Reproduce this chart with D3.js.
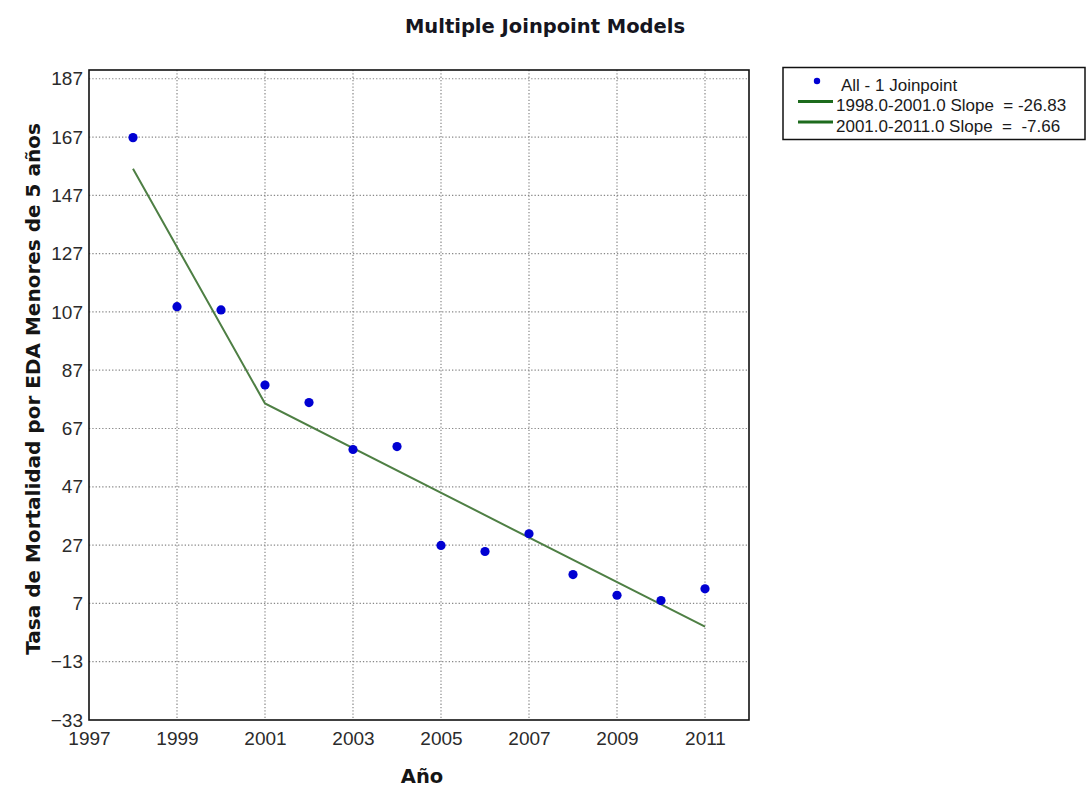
<!DOCTYPE html>
<html>
<head>
<meta charset="utf-8">
<script src="https://cdn.jsdelivr.net/npm/d3@7"></script>
<style>
  html, body { margin: 0; padding: 0; background: #ffffff; }
  svg { display: block; }
</style>
</head>
<body>
<svg id="chart" width="1088" height="787"></svg>
<script>
// Observed mortality rate per year
const years = [1998, 1999, 2000, 2001, 2002, 2003, 2004, 2005, 2006, 2007, 2008, 2009, 2010, 2011];
const rates = [166.8, 108.8, 107.7, 81.9, 75.9, 59.8, 60.8, 26.9, 24.8, 30.9, 16.9, 9.8, 8.0, 12.0];

// Joinpoint fit: segment end points
const fitYears = [1998, 2001, 2011];
const fitValues = [156.1, 75.6, -1.0];

// Axis ticks
const xTicks = [1997, 1999, 2001, 2003, 2005, 2007, 2009, 2011];
const yTicks = [-33, -13, 7, 27, 47, 67, 87, 107, 127, 147, 167, 187];

// Legend entries
const legendLabels = ["All - 1 Joinpoint", "1998.0-2001.0 Slope  = -26.83", "2001.0-2011.0 Slope  =  -7.66"];

const chartTitle = "Multiple Joinpoint Models";
const xTitle = "Año";
const yTitle = "Tasa de Mortalidad por EDA Menores de 5 años";

const svg = d3.select("#chart");
const plot = { left: 89, right: 749, top: 70, bottom: 720 };

const x = d3.scaleLinear().domain([1997, 2012]).range([plot.left, plot.right]);
const y = d3.scaleLinear().domain([-33, 190]).range([plot.bottom, plot.top]);

const tickFont = "'Liberation Sans', Arial, sans-serif";
const boldFont = "'DejaVu Sans', Verdana, sans-serif";

// Dotted grid
const grid = svg.append("g").attr("stroke", "#888").attr("stroke-width", 1.2)
  .attr("stroke-dasharray", "1.3,2");
grid.selectAll("line.v").data(xTicks.filter(t => t > 1997)).join("line")
  .attr("class", "v")
  .attr("x1", d => x(d)).attr("x2", d => x(d))
  .attr("y1", plot.top).attr("y2", plot.bottom);
grid.selectAll("line.h").data(yTicks.filter(t => t > -33)).join("line")
  .attr("class", "h")
  .attr("x1", plot.left).attr("x2", plot.right)
  .attr("y1", d => y(d)).attr("y2", d => y(d));

// Axes (labels only; the frame is drawn separately)
const xAxis = svg.append("g")
  .attr("transform", `translate(0,${plot.bottom})`)
  .call(d3.axisBottom(x).tickValues(xTicks).tickFormat(d3.format("d")).tickSize(0).tickPadding(12));
const yAxis = svg.append("g")
  .attr("transform", `translate(${plot.left},0)`)
  .call(d3.axisLeft(y).tickValues(yTicks).tickFormat(d3.format("d")).tickSize(0).tickPadding(6));
[xAxis, yAxis].forEach(g => {
  g.select(".domain").remove();
  g.selectAll("text").attr("font-family", tickFont).attr("font-size", 19).attr("fill", "#2b2b2b");
});

// Fitted joinpoint line
const fit = fitYears.map((yr, i) => [yr, fitValues[i]]);
svg.append("path")
  .datum(fit)
  .attr("fill", "none")
  .attr("stroke", "#4e7f44")
  .attr("stroke-width", 2)
  .attr("d", d3.line().x(d => x(d[0])).y(d => y(d[1])));

// Observed points
svg.append("g").selectAll("circle")
  .data(years.map((yr, i) => [yr, rates[i]]))
  .join("circle")
  .attr("cx", d => x(d[0]))
  .attr("cy", d => y(d[1]))
  .attr("r", 4.6)
  .attr("fill", "#0000d2");

// Plot frame
svg.append("rect")
  .attr("x", plot.left).attr("y", plot.top)
  .attr("width", plot.right - plot.left).attr("height", plot.bottom - plot.top)
  .attr("fill", "none").attr("stroke", "#111").attr("stroke-width", 1.6);

// Titles
svg.append("text")
  .attr("x", 545).attr("y", 33)
  .attr("text-anchor", "middle")
  .attr("font-family", boldFont).attr("font-weight", "bold").attr("font-size", 19.5)
  .attr("fill", "#151520")
  .text(chartTitle);

svg.append("text")
  .attr("x", (plot.left + plot.right) / 2 + 3).attr("y", 783)
  .attr("text-anchor", "middle")
  .attr("font-family", boldFont).attr("font-weight", "bold").attr("font-size", 19.5)
  .attr("fill", "#151515")
  .text(xTitle);

svg.append("text")
  .attr("transform", `translate(40,${(plot.top + plot.bottom) / 2 - 6}) rotate(-90)`)
  .attr("text-anchor", "middle")
  .attr("font-family", boldFont).attr("font-weight", "bold").attr("font-size", 20)
  .attr("fill", "#151515")
  .text(yTitle);

// Legend
const legend = svg.append("g");
legend.append("rect")
  .attr("x", 783).attr("y", 67.5).attr("width", 302).attr("height", 72)
  .attr("fill", "#fff").attr("stroke", "#111").attr("stroke-width", 1.5);

const rowY = [85, 105.5, 126];
legend.append("circle").attr("cx", 817).attr("cy", rowY[0] - 4).attr("r", 3.2).attr("fill", "#0000d2");
legend.selectAll("line").data([1, 2]).join("line")
  .attr("x1", 798).attr("x2", 833)
  .attr("y1", d => rowY[d] - 4).attr("y2", d => rowY[d] - 4)
  .attr("stroke", "#1d6b1d").attr("stroke-width", 3);
legend.selectAll("text").data(legendLabels).join("text")
  .attr("x", (d, i) => i === 0 ? 841 : 836)
  .attr("y", (d, i) => rowY[i])
  .attr("dy", "0.35em")
  .attr("font-family", tickFont).attr("font-size", 17)
  .attr("fill", "#1a1a1a")
  .style("white-space", "pre")
  .text(d => d);
</script>
</body>
</html>
